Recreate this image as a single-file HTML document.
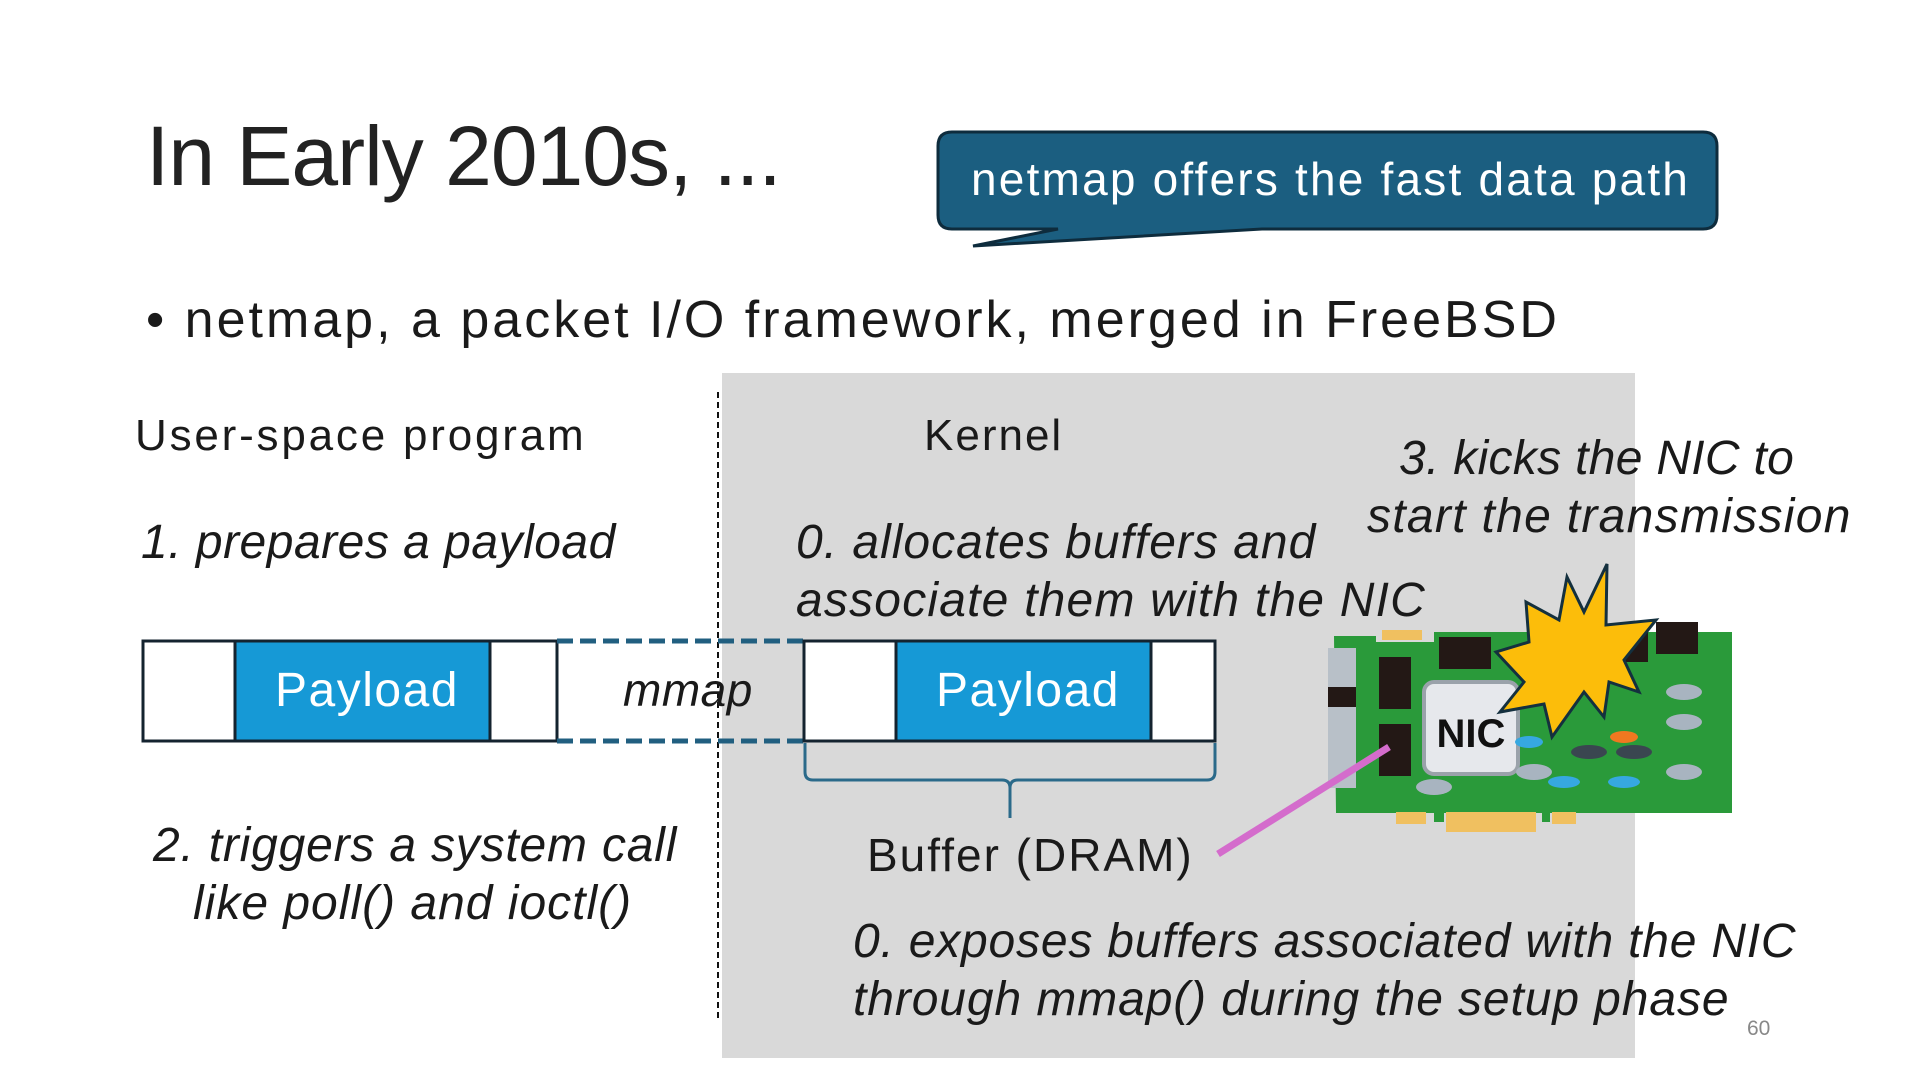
<!DOCTYPE html>
<html><head><meta charset="utf-8"><style>
body{margin:0;width:1920px;height:1080px;background:#fff;position:relative;overflow:hidden;font-family:"Liberation Sans","Noto Sans CJK JP",sans-serif;color:#1a1a1a}
.t{position:absolute;white-space:nowrap;line-height:1}
.i{font-style:italic}
</style></head><body>
<div style="position:absolute;left:722px;top:373px;width:913px;height:685px;background:#d9d9d9"></div>
<div style="position:absolute;left:717px;top:392px;height:626px;border-left:2px dashed #111"></div>

<div class="t" style="left:146px;top:114px;font-size:84px;color:#222;letter-spacing:-1px">In Early 2010s, ...</div>

<svg style="position:absolute;left:0;top:0" width="1920" height="1080">
<path d="M952,132 H1703 Q1717,132 1717,146 V215 Q1717,229 1703,229 H1262 L973,246 L1058,229 H952 Q938,229 938,215 V146 Q938,132 952,132 Z" fill="#1b5e80" stroke="#0e2c3d" stroke-width="3"/>
</svg>
<div class="t" style="left:971px;top:156px;font-size:46px;color:#fff;letter-spacing:2.2px">netmap offers the fast data path</div>

<div class="t" style="left:146px;top:294px;font-size:52px;letter-spacing:3px">• netmap, a packet I/O framework, merged in FreeBSD</div>

<div class="t" style="left:135px;top:414px;font-size:44px;letter-spacing:2.8px">User-space program</div>
<div class="t" style="left:924px;top:414px;font-size:44px;letter-spacing:2px">Kernel</div>
<div class="t i" style="left:141px;top:519px;font-size:48px;letter-spacing:0.5px">1. prepares a payload</div>
<div class="t i" style="left:796px;top:519px;font-size:48px;letter-spacing:1px">0. allocates buffers and</div>
<div class="t i" style="left:796px;top:577px;font-size:48px;letter-spacing:1.2px">associate them with the NIC</div>
<div class="t i" style="left:1399px;top:435px;font-size:48px;letter-spacing:0.3px">3. kicks the NIC to</div>
<div class="t i" style="left:1367px;top:493px;font-size:48px;letter-spacing:1.3px">start the transmission</div>

<svg style="position:absolute;left:0;top:0" width="1920" height="1080">
<rect x="143" y="641" width="414" height="100" fill="#fff" stroke="#14232f" stroke-width="3"/>
<rect x="235" y="641" width="255" height="100" fill="#1699d6" stroke="#14232f" stroke-width="3"/>
<line x1="557" y1="641" x2="804" y2="641" stroke="#215f80" stroke-width="5" stroke-dasharray="16,7"/>
<line x1="557" y1="741" x2="804" y2="741" stroke="#215f80" stroke-width="5" stroke-dasharray="16,7"/>
<rect x="804" y="641" width="411" height="100" fill="#fff" stroke="#14232f" stroke-width="3"/>
<rect x="896" y="641" width="255" height="100" fill="#1699d6" stroke="#14232f" stroke-width="3"/>
<path d="M805,743 V772 Q805,780 813,780 H1002 Q1010,780 1010,788 V818 M1010,788 Q1010,780 1018,780 H1207 Q1215,780 1215,772 V743" fill="none" stroke="#2b6a8a" stroke-width="3"/>
<g transform="translate(-16,-8)">
<path d="M1350,644 H1392 V650 H1450 V640 H1748 V821 H1566 V830 H1558 V821 H1460 V830 H1450 V821 H1352 Z" fill="#2a9a3a"/>
<rect x="1412" y="820" width="30" height="12" fill="#f0c060"/>
<rect x="1462" y="820" width="90" height="20" fill="#f0c060"/>
<rect x="1568" y="820" width="24" height="12" fill="#f0c060"/>
<rect x="1398" y="638" width="40" height="10" fill="#f0c060"/>
<rect x="1344" y="656" width="28" height="140" fill="#b8c0c8"/>
<rect x="1344" y="695" width="28" height="20" fill="#231815"/>
<rect x="1395" y="665" width="32" height="52" fill="#231815"/>
<rect x="1395" y="732" width="32" height="52" fill="#231815"/>
<rect x="1455" y="645" width="52" height="32" fill="#231815"/>
<rect x="1672" y="630" width="42" height="32" fill="#231815"/>
<rect x="1622" y="640" width="42" height="30" fill="#231815"/>
<rect x="1440" y="690" width="94" height="92" rx="10" fill="#e6e8ec" stroke="#9aa2aa" stroke-width="4"/>
<text x="1487" y="755" font-family="Liberation Sans, sans-serif" font-weight="bold" font-size="40" text-anchor="middle" fill="#111">NIC</text>
<ellipse cx="1700" cy="700" rx="18" ry="8" fill="#a8b4c0"/>
<ellipse cx="1700" cy="730" rx="18" ry="8" fill="#a8b4c0"/>
<ellipse cx="1700" cy="780" rx="18" ry="8" fill="#a8b4c0"/>
<ellipse cx="1640" cy="745" rx="14" ry="6" fill="#f07820"/>
<ellipse cx="1605" cy="760" rx="18" ry="7" fill="#3a4650"/>
<ellipse cx="1650" cy="760" rx="18" ry="7" fill="#3a4650"/>
<ellipse cx="1580" cy="790" rx="16" ry="6" fill="#36a8e0"/>
<ellipse cx="1640" cy="790" rx="16" ry="6" fill="#36a8e0"/>
<ellipse cx="1545" cy="750" rx="14" ry="6" fill="#36a8e0"/>
<ellipse cx="1550" cy="780" rx="18" ry="8" fill="#a8b4c0"/>
<ellipse cx="1450" cy="795" rx="18" ry="8" fill="#a8b4c0"/>
<polygon points="1623,572 1622,633 1672,628 1640,668 1655,700 1625,690 1620,725 1600,700 1568,745 1560,712 1516,720 1540,690 1512,660 1545,650 1542,610 1575,628 1583,585 1600,620" fill="#fcbd0a" stroke="#14303e" stroke-width="3"/>
</g>
<line x1="1218" y1="854" x2="1389" y2="747" stroke="#d46ccc" stroke-width="7"/>
</svg>
<div class="t" style="left:275px;top:667px;font-size:48px;color:#fff;letter-spacing:1.5px">Payload</div>
<div class="t" style="left:936px;top:667px;font-size:48px;color:#fff;letter-spacing:1.5px">Payload</div>
<div class="t i" style="left:623px;top:667px;font-size:46px;letter-spacing:0.5px">mmap</div>
<div class="t" style="left:867px;top:832px;font-size:46px;letter-spacing:2px">Buffer (DRAM)</div>
<div class="t i" style="left:153px;top:822px;font-size:48px;letter-spacing:0.8px">2. triggers a system call</div>
<div class="t i" style="left:193px;top:880px;font-size:48px;letter-spacing:1px">like poll() and ioctl()</div>
<div class="t i" style="left:853px;top:918px;font-size:48px;letter-spacing:0.8px">0. exposes buffers associated with the NIC</div>
<div class="t i" style="left:853px;top:976px;font-size:48px;letter-spacing:0.9px">through mmap() during the setup phase</div>
<div class="t" style="left:1747px;top:1018px;font-size:21px;color:#888">60</div>
</body></html>
